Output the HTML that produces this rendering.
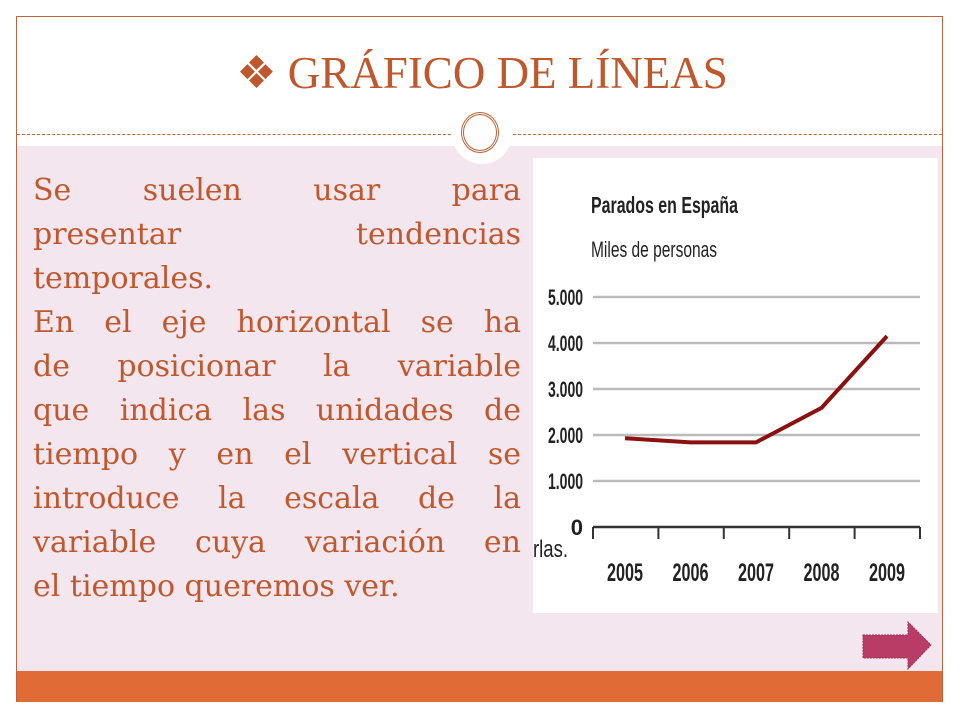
<!DOCTYPE html>
<html><head><meta charset="utf-8">
<style>
body{margin:0;width:960px;height:720px;background:#fff;position:relative;overflow:hidden;font-family:"Liberation Serif",serif}
.frame{position:absolute;left:16px;top:16px;width:927px;height:686px;border:1px solid #c0623a;box-sizing:border-box}
.pink{position:absolute;left:17px;top:146px;width:925px;height:526px;background:#f4e6ee}
.dash{position:absolute;left:17px;top:134px;width:925px;border-top:1px dashed #c0623a}
.circ{position:absolute;left:452px;top:104px;width:60px;height:60px;border-radius:50%;background:#fff}
.circ2{position:absolute;left:461px;top:112px;width:38px;height:41px;border-radius:50%;border:3px double #c0623a;box-sizing:border-box}
.title{position:absolute;left:0;width:964px;top:46px;text-align:center;font-size:45px;color:#c0582e}
.bar{position:absolute;left:17px;top:671px;width:925px;height:31px;background:#e06b36}
.text{position:absolute;left:33px;top:169px;width:488px;font-family:"DejaVu Serif",serif;font-size:30px;color:#c0582e;line-height:44px}
.text div{text-align:justify;text-align-last:justify;white-space:nowrap}
.text div.l{text-align-last:left}
.chartbox{position:absolute;left:533px;top:158px;width:405px;height:455px;background:#fff}
</style></head><body>
<div class="frame"></div>
<div class="pink"></div>
<div class="dash"></div>
<div class="circ"></div>
<div class="circ2"></div>
<div class="title">❖ GRÁFICO DE LÍNEAS</div>
<div class="text">
<div>Se suelen usar para</div>
<div>presentar tendencias</div>
<div class="l">temporales.</div>
<div>En el eje horizontal se ha</div>
<div>de posicionar la variable</div>
<div>que indica las unidades de</div>
<div>tiempo y en el vertical se</div>
<div>introduce la escala de la</div>
<div>variable cuya variación en</div>
<div class="l">el tiempo queremos ver.</div>
</div>
<div class="chartbox"></div>
<svg style="position:absolute;left:0;top:0" width="960" height="720">
<g id="chart" font-family="'Liberation Sans Narrow','Liberation Sans',sans-serif"></g>
</svg>
<div class="bar"></div>
<svg style="position:absolute;left:862px;top:621px" width="70" height="50">
<polygon points="1,14 46,14 46,1 69,24 46,48 46,37 1,37" fill="#b83c66" stroke="#9a2f55" stroke-dasharray="2,1"/>
</svg>
<script>
const years=["2005","2006","2007","2008","2009"];
const parados=[1930,1840,1840,2590,4150];
const yTicks=[0,1000,2000,3000,4000,5000];
const yTickLabels=["0","1.000","2.000","3.000","4.000","5.000"];
const NS="http://www.w3.org/2000/svg";
const g=document.getElementById('chart');
const y=v=>527-v*0.046;
const x=i=>625+i*65.5;
function mk(t,a){const e=document.createElementNS(NS,t);for(const k in a)e.setAttribute(k,a[k]);g.appendChild(e);return e;}
let t=mk('text',{x:591,y:213,'font-size':23,'font-weight':'bold',fill:'#222',textLength:147,lengthAdjust:'spacingAndGlyphs'});t.textContent='Parados en España';


t=mk('text',{x:591,y:257,'font-size':22,fill:'#222',textLength:126,lengthAdjust:'spacingAndGlyphs'});t.textContent='Miles de personas';


yTicks.forEach((v,i)=>{
  if(v>0){const l=mk('line',{x1:593,x2:920,y1:y(v),y2:y(v),stroke:'#bbb','stroke-width':2.5});
  
  }
  const a={x:583,y:y(v)+8,'text-anchor':'end','font-size':22,'font-weight':'bold',fill:'#222'};
  if(yTickLabels[i].length>1){a.textLength=35;a.lengthAdjust='spacingAndGlyphs';}
  const tx=mk('text',a);
  tx.textContent=yTickLabels[i];
  
  
});
const ax=mk('line',{x1:593,x2:920,y1:527,y2:527,stroke:'#333','stroke-width':2.5});


for(let i=0;i<=years.length;i++){
  const tk=mk('line',{x1:593+i*65.4,x2:593+i*65.4,y1:527,y2:539,stroke:'#333','stroke-width':2});
  
  
}
years.forEach((yr,i)=>{
  const tx=mk('text',{x:x(i),y:581,'text-anchor':'middle','font-size':25,'font-weight':'bold',fill:'#222',textLength:36,lengthAdjust:'spacingAndGlyphs'});
  tx.textContent=yr;
  
  
});
t=mk('text',{x:533,y:557,'font-size':24,fill:'#222',textLength:35,lengthAdjust:'spacingAndGlyphs'});t.textContent='rlas.';


const p=mk('polyline',{points:parados.map((v,i)=>x(i)+','+y(v)).join(' '),fill:'none',stroke:'#8b1010','stroke-width':4,'stroke-linejoin':'round'});


</script>
</body></html>
